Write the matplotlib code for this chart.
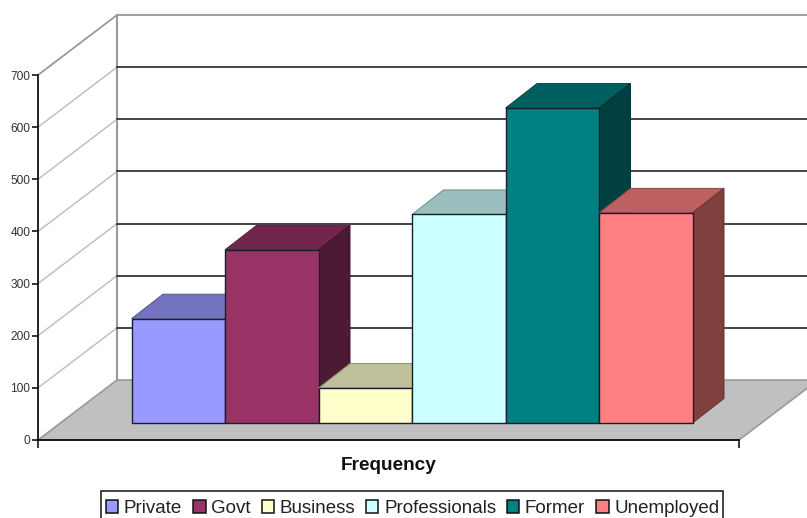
import matplotlib
matplotlib.use("Agg")
import matplotlib.pyplot as plt
from matplotlib.patches import Polygon, Patch, Rectangle

plt.rcParams["font.family"] = ["Liberation Sans", "DejaVu Sans"]

categories = ["Private", "Govt", "Business", "Professionals", "Former", "Unemployed"]
frequency = [200, 332, 67, 400, 604, 403]
colors = ["#9999FF", "#993366", "#FFFFCC", "#CCFFFF", "#008080", "#FF8080"]
y_ticks = [0, 100, 200, 300, 400, 500, 600, 700]

W, H = 807, 518
PX_PER_X = 93.5        # pixels per category slot
PX_PER_Y = 0.5214      # pixels per frequency unit
X0_PX, Y0_PX = 131.5, 440  # pixel position of slot 0 and of the value 0


def sx(px):
    return px / PX_PER_X


def sy(px):
    return px / PX_PER_Y


fig = plt.figure(figsize=(W / 100, H / 100), dpi=100)
ax = fig.add_axes([0, 0, 1, 1])
ax.set_xlim(-X0_PX / PX_PER_X, (W - X0_PX) / PX_PER_X)
ax.set_ylim((Y0_PX - H) / PX_PER_Y, Y0_PX / PX_PER_Y)

# box extents
left = sx(38 - X0_PX)
right = sx(739 - X0_PX)
depth_x, depth_y = sx(79), sy(60)
top = y_ticks[-1]
GREY = "#999999"

# floor
ax.add_patch(Polygon([(left, 0), (right, 0), (right + depth_x, depth_y),
                      (left + depth_x, depth_y)],
                     closed=True, facecolor="#c0c0c0", edgecolor=GREY, lw=1.2, zorder=1))

# back wall and side wall grid
ax.plot([left + depth_x] * 2, [depth_y, top + depth_y], color=GREY, lw=1.5, zorder=2)
ax.plot([left, left + depth_x], [top, top + depth_y], color=GREY, lw=1.3, zorder=2)
ax.plot([left + depth_x, right + depth_x], [top + depth_y] * 2, color=GREY, lw=1.3, zorder=2)
for t in y_ticks[1:-1]:
    ax.plot([left, left + depth_x], [t, t + depth_y], color="#bbbbbb", lw=1.0, zorder=2)
    ax.plot([left + depth_x, right + depth_x], [t + depth_y] * 2, color="#111111", lw=1.1, zorder=2)

# 3D bars, painted left to right so each one covers its neighbour's side face
base = sy(17)
bar_dx, bar_dy = sx(31.5), sy(24.5)


def shade(hex_color, factor):
    return tuple(c * factor for c in matplotlib.colors.to_rgb(hex_color))


z = 3
for i, (value, color) in enumerate(zip(frequency, colors)):
    x0, x1 = i, i + 1
    y0, y1 = base, base + value
    ax.add_patch(Polygon([(x0, y1), (x1, y1), (x1 + bar_dx, y1 + bar_dy), (x0 + bar_dx, y1 + bar_dy)],
                         closed=True, facecolor=shade(color, 0.75),
                         edgecolor=shade(color, 0.55), lw=0.7, zorder=z))
    ax.add_patch(Polygon([(x1, y0), (x1 + bar_dx, y0 + bar_dy), (x1 + bar_dx, y1 + bar_dy), (x1, y1)],
                         closed=True, facecolor=shade(color, 0.5),
                         edgecolor=shade(color, 0.4), lw=0.7, zorder=z))
    ax.bar(i + 0.5, value, width=1, bottom=base, color=color, edgecolor="#14202c", lw=1.0, zorder=z + 0.5)
    z += 1

# axes
for name in ("top", "right"):
    ax.spines[name].set_visible(False)
ax.spines["left"].set_position(("data", left))
ax.spines["left"].set_bounds(0, top)
ax.spines["bottom"].set_position(("data", 0))
ax.spines["bottom"].set_bounds(left, right)
for name in ("left", "bottom"):
    ax.spines[name].set_linewidth(1.2)
    ax.spines[name].set_zorder(20)
ax.set_yticks(y_ticks)
ax.set_xticks([left, right])
ax.set_xticklabels([])
ax.tick_params(axis="y", length=4, width=1.1, labelsize=8.6, pad=1.5, labelcolor="#333333")
ax.tick_params(axis="x", length=5.5, width=1.1, direction="out")

ax.text((left + right) / 2 + sx(0.5), sy(440 - 466), "Frequency", ha="center", va="center",
        fontsize=13.7, fontweight="bold", color="#111111")

# legend frame runs off the lower edge of the figure
ax.add_patch(Rectangle((sx(101 - X0_PX), sy(440 - 535)), sx(622), sy(44), facecolor="white",
                       edgecolor="#111111", lw=1.1, zorder=29))
handles = [Patch(facecolor=c, edgecolor="#111111", lw=1.1, label=n) for n, c in zip(categories, colors)]
leg = ax.legend(handles=handles, ncol=6, loc="upper left",
                bbox_to_anchor=(106 / W, 1 - 500 / H), bbox_transform=ax.transAxes,
                fontsize=13.5, frameon=False,
                borderaxespad=0, borderpad=0, handlelength=0.66, handleheight=0.66,
                handletextpad=0.3, columnspacing=0.58, labelcolor="#222222")
leg.set_zorder(30)

fig.savefig("out.png", dpi=100)
